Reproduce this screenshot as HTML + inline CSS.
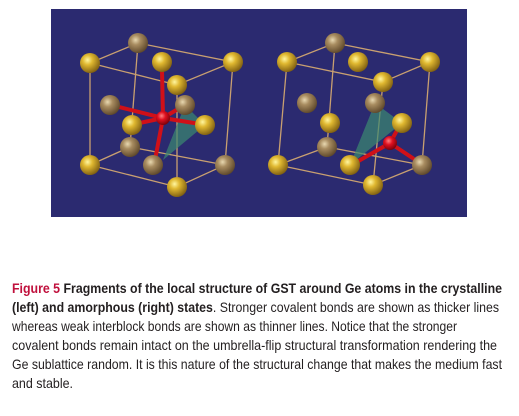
<!DOCTYPE html>
<html><head><meta charset="utf-8"><style>
html,body{margin:0;padding:0;background:#fff;width:519px;height:416px;overflow:hidden}
svg{display:block}
</style></head><body>
<svg width="519" height="416" viewBox="0 0 519 416" xmlns="http://www.w3.org/2000/svg">
<defs>
<radialGradient id="gy" cx="0.38" cy="0.35" r="0.7">
<stop offset="0" stop-color="#fff6a0"/><stop offset="0.35" stop-color="#e0b830"/><stop offset="1" stop-color="#7a5a10"/></radialGradient>
<radialGradient id="gt" cx="0.38" cy="0.35" r="0.7">
<stop offset="0" stop-color="#e8d8b0"/><stop offset="0.35" stop-color="#a88c60"/><stop offset="1" stop-color="#5a4428"/></radialGradient>
<radialGradient id="gr" cx="0.4" cy="0.35" r="0.7">
<stop offset="0" stop-color="#ff8080"/><stop offset="0.4" stop-color="#e01020"/><stop offset="1" stop-color="#700008"/></radialGradient>
</defs>
<rect x="51" y="9" width="416" height="208" fill="#2b2a70"/>

<g stroke="#c9a070" stroke-width="1.3" fill="none">
<polyline points="90,63 138,43 233,62 177,85 90,63 90,165 177,187 225,165 233,62"/>
<line x1="177" y1="85" x2="177" y2="187"/>
<line x1="138" y1="43" x2="130" y2="147"/>
<line x1="130" y1="147" x2="90" y2="165"/>
<line x1="130" y1="147" x2="225" y2="165"/>
<polygon points="185,105 205,125 163,160" fill="#3c8a70" fill-opacity="0.7" stroke="none"/>
<g stroke="#d01018" stroke-width="4">
<line x1="163" y1="118" x2="162" y2="70"/>
<line x1="163" y1="118" x2="115" y2="106"/>
<line x1="163" y1="118" x2="200" y2="124"/>
<line x1="163" y1="118" x2="155" y2="160"/>
<line x1="163" y1="118" x2="183" y2="106"/>
<line x1="163" y1="118" x2="135" y2="124"/>
</g>
<circle cx="138" cy="43" r="10" fill="url(#gt)" stroke="none"/>
<circle cx="162" cy="62" r="10" fill="url(#gy)" stroke="none"/>
<circle cx="90" cy="63" r="10" fill="url(#gy)" stroke="none"/>
<circle cx="233" cy="62" r="10" fill="url(#gy)" stroke="none"/>
<circle cx="177" cy="85" r="10" fill="url(#gy)" stroke="none"/>
<circle cx="110" cy="105" r="10" fill="url(#gt)" stroke="none"/>
<circle cx="185" cy="105" r="10" fill="url(#gt)" stroke="none"/>
<circle cx="130" cy="147" r="10" fill="url(#gt)" stroke="none"/>
<circle cx="163" cy="118" r="7" fill="url(#gr)" stroke="none"/>
<circle cx="132" cy="125" r="10" fill="url(#gy)" stroke="none"/>
<circle cx="205" cy="125" r="10" fill="url(#gy)" stroke="none"/>
<circle cx="90" cy="165" r="10" fill="url(#gy)" stroke="none"/>
<circle cx="153" cy="165" r="10" fill="url(#gt)" stroke="none"/>
<circle cx="225" cy="165" r="10" fill="url(#gt)" stroke="none"/>
<circle cx="177" cy="187" r="10" fill="url(#gy)" stroke="none"/>
</g>

<g stroke="#c9a070" stroke-width="1.3" fill="none">
<polyline points="287,62 335,43 430,62 383,82 287,62 278,165 373,185 422,165 430,62"/>
<line x1="383" y1="82" x2="373" y2="185"/>
<line x1="335" y1="43" x2="327" y2="147"/>
<line x1="327" y1="147" x2="278" y2="165"/>
<line x1="327" y1="147" x2="422" y2="165"/>
<polygon points="375,103 402,123 350,165" fill="#3c8a70" fill-opacity="0.7" stroke="none"/>
<g stroke="#d01018" stroke-width="4">
<line x1="390" y1="143" x2="420" y2="163"/>
<line x1="390" y1="143" x2="355" y2="163"/>
<line x1="390" y1="143" x2="400" y2="125"/>
</g>
<circle cx="335" cy="43" r="10" fill="url(#gt)" stroke="none"/>
<circle cx="287" cy="62" r="10" fill="url(#gy)" stroke="none"/>
<circle cx="358" cy="62" r="10" fill="url(#gy)" stroke="none"/>
<circle cx="430" cy="62" r="10" fill="url(#gy)" stroke="none"/>
<circle cx="383" cy="82" r="10" fill="url(#gy)" stroke="none"/>
<circle cx="307" cy="103" r="10" fill="url(#gt)" stroke="none"/>
<circle cx="375" cy="103" r="10" fill="url(#gt)" stroke="none"/>
<circle cx="330" cy="123" r="10" fill="url(#gy)" stroke="none"/>
<circle cx="402" cy="123" r="10" fill="url(#gy)" stroke="none"/>
<circle cx="327" cy="147" r="10" fill="url(#gt)" stroke="none"/>
<circle cx="390" cy="143" r="7" fill="url(#gr)" stroke="none"/>
<circle cx="278" cy="165" r="10" fill="url(#gy)" stroke="none"/>
<circle cx="350" cy="165" r="10" fill="url(#gy)" stroke="none"/>
<circle cx="422" cy="165" r="10" fill="url(#gt)" stroke="none"/>
<circle cx="373" cy="185" r="10" fill="url(#gy)" stroke="none"/>
</g>

<g font-family="'Liberation Sans', sans-serif" font-size="14" fill="#231f20">
<text x="12" y="293" textLength="490" lengthAdjust="spacingAndGlyphs" font-weight="bold"><tspan fill="#c0103c">Figure 5</tspan> Fragments of the local structure of GST around Ge atoms in the crystalline</text>
<text x="12" y="312" textLength="487" lengthAdjust="spacingAndGlyphs"><tspan font-weight="bold">(left) and amorphous (right) states</tspan>. Stronger covalent bonds are shown as thicker lines</text>
<text x="12" y="331" textLength="445" lengthAdjust="spacingAndGlyphs">whereas weak interblock bonds are shown as thinner lines. Notice that the stronger</text>
<text x="12" y="350" textLength="485" lengthAdjust="spacingAndGlyphs">covalent bonds remain intact on the umbrella-flip structural transformation rendering the</text>
<text x="12" y="369" textLength="490" lengthAdjust="spacingAndGlyphs">Ge sublattice random. It is this nature of the structural change that makes the medium fast</text>
<text x="12" y="388" textLength="61" lengthAdjust="spacingAndGlyphs">and stable.</text>
</g>
</svg>
</body></html>
